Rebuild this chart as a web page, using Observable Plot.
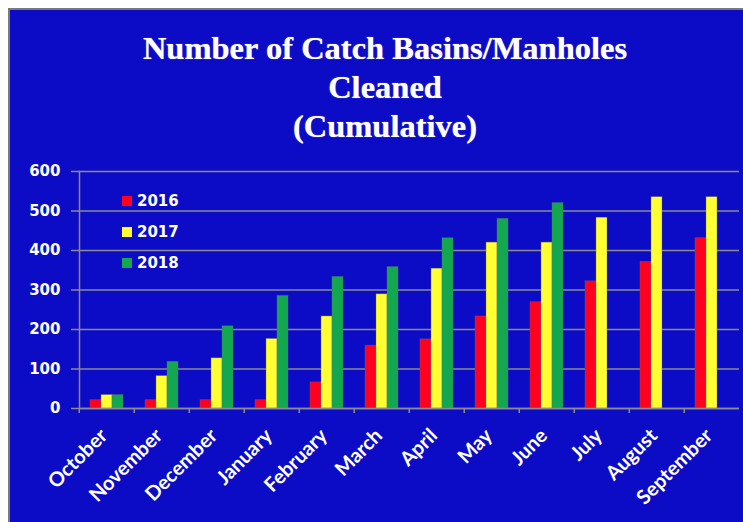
<!DOCTYPE html>
<html><head><meta charset="utf-8">
<script src="https://cdn.jsdelivr.net/npm/d3@7"></script>
<script src="https://cdn.jsdelivr.net/npm/@observablehq/plot@0.6"></script>
<style>
body{margin:0;background:#fff;width:743px;height:522px;overflow:hidden;position:relative;}
#panel{position:absolute;left:8px;top:8px;width:735px;height:514px;background:#0c0cc6;border-left:2px solid #7a7a7a;border-top:2px solid #7a7a7a;box-sizing:border-box;}
.t{position:absolute;left:0;width:770px;text-align:center;color:#fff;font-family:"Liberation Serif",serif;font-weight:bold;font-size:32.5px;line-height:39px;white-space:nowrap;text-shadow:0 0 1px #b8b8ff;}
#chart{position:absolute;left:0;top:160px;}
#legend{position:absolute;left:122px;top:185px;font-family:"DejaVu Sans",sans-serif;font-weight:bold;font-size:15px;color:#fff;}
#legend div{height:31px;display:flex;align-items:center;}
#legend span.sw{display:inline-block;width:10px;height:10px;margin-right:5px;}
</style></head>
<body>
<div id="panel"></div>
<div class="t" style="top:29px">Number of Catch Basins/Manholes</div>
<div class="t" style="top:68px">Cleaned</div>
<div class="t" style="top:107px">(Cumulative)</div>
<div id="chart"></div>
<div id="legend"></div>
<script>
const months = ["October","November","December","January","February","March","April","May","June","July","August","September"];
const years = ["2016","2017","2018"];
const v2016 = [21, 21, 21, 21, 66, 159, 175, 233, 269, 322, 371, 431];
const v2017 = [34, 82, 127, 176, 233, 289, 354, 420, 420, 483, 535, 535];
const v2018 = [34, 118, 208, 285, 333, 358, 431, 480, 520, null, null, null];
const yTicks = [0, 100, 200, 300, 400, 500, 600];
const colors = ["#ff0020", "#ffff33", "#13a84f"];

const series = [v2016, v2017, v2018];
const data = [];
months.forEach((m, i) => years.forEach((y, j) => {
  if (series[j][i] != null) data.push({month: m, year: y, value: series[j][i]});
}));

const W = 743, ML = 76, MR = 1;
const fxStep = (W - ML - MR) / months.length;
const grid = "#8a8a92";

const chart = Plot.plot({
  width: W, height: 362,
  marginLeft: ML, marginRight: MR, marginTop: 11, marginBottom: 114,
  style: {background: "transparent", color: "#fff", fontFamily: "DejaVu Sans, sans-serif", fontWeight: "bold", fontSize: "15px", overflow: "visible"},
  fx: {domain: months, padding: 0, label: null},
  x: {domain: years, paddingInner: 0, paddingOuter: 0.85, axis: null},
  y: {domain: [0, 600], label: null},
  color: {domain: years, range: colors},
  marks: [
    Plot.gridY(yTicks, {stroke: grid, strokeOpacity: 1, strokeWidth: 1.5}),
    Plot.axisY(yTicks, {tickSize: 8, tickPadding: 11, stroke: grid, strokeWidth: 1.5, fill: "#fff", label: null, fontSize: 15}),
    Plot.frame({anchor: "left", facetAnchor: "left", stroke: grid, strokeWidth: 1.5}),
    Plot.barY(data, {fx: "month", x: "year", y: "value", fill: "year", stroke: "#6a6a6a", strokeWidth: 0.6, strokeOpacity: 0.6}),
    Plot.ruleY([0], {stroke: grid, strokeWidth: 1.5}),
    Plot.axisFx({anchor: "bottom", text: null, tickSize: 5, dx: -fxStep / 2, stroke: grid, strokeWidth: 1.5, label: null}),
    Plot.axisFx({anchor: "bottom", tickSize: 0, tickRotate: -45, tickPadding: 24, dx: -3, label: null, fill: "#fff", fontFamily: "Lato, sans-serif", fontWeight: "bold", fontSize: 20})
  ]
});
document.getElementById("chart").appendChild(chart);

const lg = document.getElementById("legend");
years.forEach((y, j) => {
  const d = document.createElement("div");
  d.innerHTML = `<span class="sw" style="background:${colors[j]}"></span>${y}`;
  lg.appendChild(d);
});
</script>
</body></html>
